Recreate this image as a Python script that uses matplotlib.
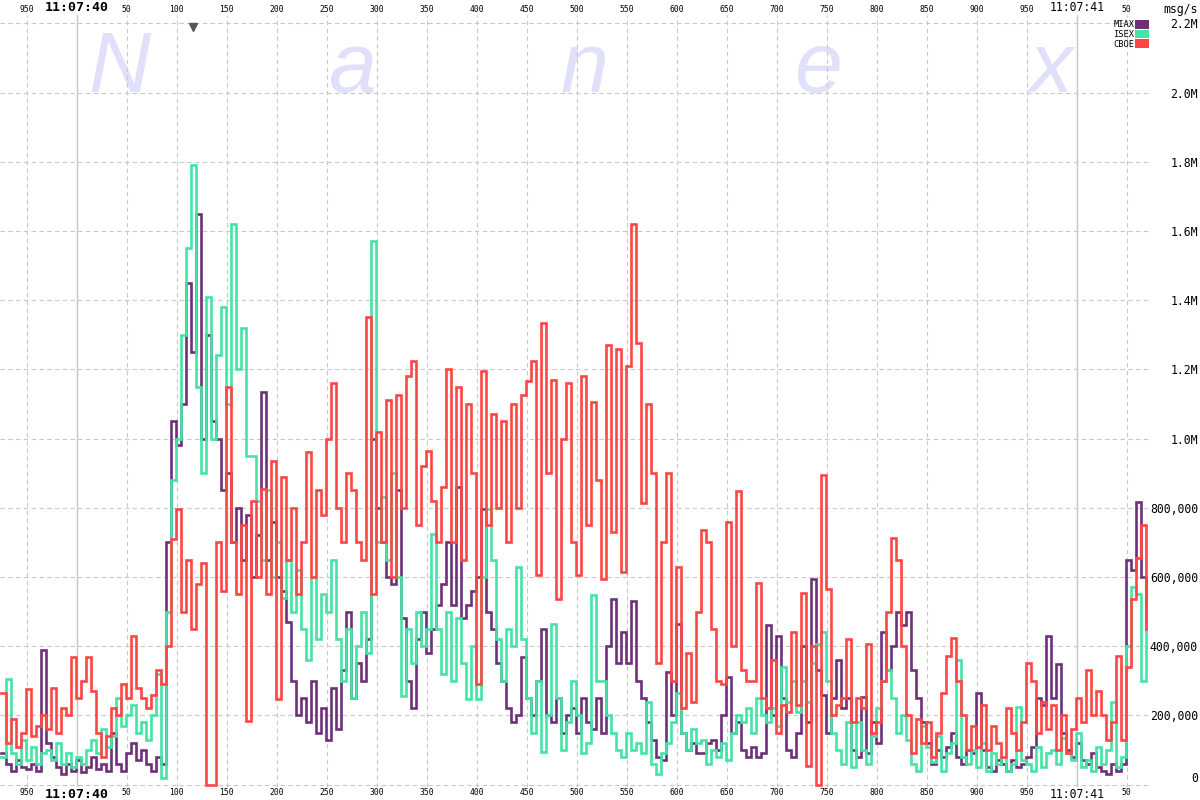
import numpy as np
import matplotlib
matplotlib.use("Agg")
import matplotlib.pyplot as plt
from matplotlib.patches import Patch

# ---------- data: msg/s in thousands, one sample every 5 ms ----------
# time is ms after 11:07:39.000 (so 1000 = 11:07:40.000)
T0_MS = 924
STEP_MS = 5

miax = [90, 60, 40, 70, 50, 45, 60, 40, 390, 120,
        80, 50, 30, 60, 40, 70, 35, 50, 80, 45,
        60, 40, 150, 60, 40, 90, 120, 70, 100, 60,
        40, 80, 60, 700, 1050, 980, 1100, 1450, 1250, 1650,
        1000, 1300, 1050, 1000, 850, 900, 700, 800, 650, 780,
        600, 720, 1135, 650, 760, 600, 560, 470, 300, 200,
        250, 180, 300, 150, 220, 130, 280, 160, 330, 500,
        250, 350, 300, 420, 1000, 800, 700, 600, 580, 850,
        480, 300, 220, 420, 500, 380, 450, 520, 580, 700,
        520, 860, 480, 520, 560, 600, 795, 500, 450, 350,
        300, 220, 180, 200, 370, 250, 200, 300, 450, 200,
        180, 250, 150, 200, 220, 150, 250, 180, 160, 250,
        150, 400, 535, 350, 440, 350, 530, 300, 250, 180,
        130, 80, 70, 325, 200, 465, 150, 100, 120, 90,
        90, 120, 130, 100, 200, 312, 150, 180, 100, 80,
        110, 80, 90, 460, 200, 430, 250, 100, 80, 150,
        400, 180, 595, 330, 260, 150, 250, 360, 220, 250,
        100, 80, 254, 90, 180, 120, 442, 330, 400, 500,
        460, 500, 330, 250, 180, 120, 60, 100, 80, 110,
        150, 80, 60, 100, 90, 265, 100, 50, 40, 70,
        60, 40, 70, 50, 60, 80, 110, 250, 230, 430,
        250, 348, 150, 100, 80, 120, 70, 60, 90, 50,
        40, 30, 60, 40, 60, 650, 620, 818, 600, 480]

isex = [80, 305, 90, 60, 130, 70, 110, 60, 90, 100,
        70, 120, 60, 90, 50, 80, 60, 100, 130, 90,
        160, 110, 140, 250, 170, 200, 230, 150, 180, 130,
        200, 320, 20, 500, 880, 1000, 1300, 1550, 1790, 1150,
        900, 1410, 1000, 1240, 1380, 1100, 1620, 1200, 1320, 950,
        950, 820, 650, 850, 600, 700, 540, 650, 500, 620,
        450, 360, 600, 420, 550, 500, 650, 420, 300, 450,
        250, 400, 500, 380, 1570, 700, 830, 650, 900, 600,
        255, 450, 350, 500, 400, 450, 725, 450, 320, 500,
        300, 480, 350, 248, 400, 248, 600, 795, 650, 420,
        300, 450, 400, 630, 420, 250, 150, 300, 95, 200,
        465, 250, 100, 180, 300, 200, 90, 120, 548, 300,
        300, 200, 150, 100, 80, 150, 100, 120, 90, 240,
        60, 30, 90, 120, 180, 265, 150, 100, 160, 120,
        130, 60, 100, 80, 120, 70, 150, 200, 180, 220,
        150, 250, 200, 180, 220, 170, 340, 240, 300, 210,
        300, 240, 350, 405, 440, 300, 150, 100, 60, 180,
        50, 180, 100, 60, 140, 220, 300, 330, 250, 150,
        200, 130, 60, 40, 170, 110, 65, 140, 40, 90,
        120, 360, 80, 60, 100, 50, 120, 40, 90, 60,
        80, 40, 60, 225, 70, 60, 40, 110, 50, 90,
        100, 60, 135, 90, 70, 150, 50, 70, 40, 110,
        60, 100, 240, 50, 80, 400, 570, 550, 300, 510]

cboe = [265, 120, 190, 110, 150, 275, 140, 170, 200, 160,
        280, 150, 220, 200, 370, 250, 300, 370, 270, 150,
        80, 140, 220, 200, 290, 250, 430, 280, 250, 220,
        260, 330, 290, 400, 710, 795, 500, 650, 450, 580,
        640, 0, 0, 700, 560, 1150, 700, 550, 750, 185,
        820, 600, 855, 550, 936, 248, 890, 650, 800, 550,
        700, 960, 600, 850, 780, 1000, 1160, 800, 700, 900,
        850, 700, 650, 1350, 550, 1020, 700, 1110, 600, 1125,
        800, 1180, 1225, 750, 920, 965, 820, 700, 860, 1200,
        700, 1150, 650, 1100, 900, 290, 1195, 750, 1070, 800,
        1050, 700, 1100, 800, 1125, 1165, 1225, 607, 1335, 900,
        1170, 536, 1000, 1160, 700, 607, 1180, 750, 1105, 880,
        595, 1270, 730, 1260, 613, 1210, 1620, 1275, 815, 1100,
        900, 350, 700, 900, 300, 630, 220, 380, 240, 500,
        735, 700, 450, 300, 290, 760, 400, 848, 330, 300,
        300, 583, 250, 220, 360, 150, 230, 210, 440, 230,
        555, 54, 400, 0, 895, 565, 200, 230, 250, 420,
        180, 250, 220, 405, 150, 180, 300, 500, 712, 650,
        400, 200, 90, 190, 120, 180, 80, 150, 265, 372,
        425, 300, 200, 100, 170, 110, 230, 100, 170, 120,
        80, 220, 150, 100, 180, 350, 300, 150, 240, 160,
        230, 100, 200, 90, 160, 250, 180, 330, 200, 270,
        200, 130, 180, 372, 130, 340, 536, 655, 750, 450]

series_names = ["MIAX", "ISEX", "CBOE"]
series_colors = ["#6e3179", "#44e3a6", "#ff4644"]

tick_ms = list(range(950, 2051, 50))
tick_labels = ["950", "11:07:40", "50", "100", "150", "200", "250", "300",
               "350", "400", "450", "500", "550", "600", "650", "700", "750",
               "800", "850", "900", "950", "11:07:41", "50"]
second_marks = [1000, 2000]

y_ticks = [0, 200000, 400000, 600000, 800000, 1000000, 1200000, 1400000,
           1600000, 1800000, 2000000, 2200000]
y_labels = ["0", "200,000", "400,000", "600,000", "800,000", "1.0M", "1.2M",
            "1.4M", "1.6M", "1.8M", "2.0M", "2.2M"]

watermark = ["N", "a", "n", "e", "x"]
marker_ms = 1116

# ---------- figure ----------
W, H = 1200, 800
fig = plt.figure(figsize=(12, 8), dpi=100)
fig.patch.set_facecolor("white")
ax = fig.add_axes([0, 13 / H, 1150 / W, 772 / H])
ax.set_xlim(923.3, 2073.3)
ax.set_ylim(-7000, 2.224e6)
for sp in ax.spines.values():
    sp.set_visible(False)

mono = "DejaVu Sans Mono"

# grid
ax.set_xticks(tick_ms)
ax.set_yticks(y_ticks)
ax.grid(True, color="#c8c8c8", linestyle=(0, (4, 3)), linewidth=0.8, zorder=0)
for s in second_marks:
    ax.axvline(s, color="#c8c8c8", linewidth=1.0, zorder=0.5)

# watermark
for i, ch in enumerate(watermark):
    ax.text((119 + 233 * i) / 1150, 0.9, ch, transform=ax.transAxes,
            fontsize=62, family="Liberation Sans", style="italic",
            color="#e0e0fa", ha="center", va="baseline", zorder=0.6)

# data (each sample holds for STEP_MS)
t = T0_MS + STEP_MS * np.arange(len(miax))
for vals, name, col in zip([miax, isex, cboe], series_names, series_colors):
    ax.plot(t, np.array(vals) * 1000, drawstyle="steps-post", color=col,
            linewidth=1.9, label=name, zorder=2, solid_joinstyle="miter")

# x tick labels on top and bottom
ax.tick_params(axis="x", which="both", top=True, bottom=True, labeltop=True,
               labelbottom=True, length=0)
ax.tick_params(axis="x", pad=1.0)
ax.set_xticklabels(tick_labels)
for tk, lab in zip(ax.xaxis.get_major_ticks(), tick_labels):
    for txt in (tk.label1, tk.label2):
        txt.set_family(mono)
        if lab == "11:07:40":
            txt.set_fontsize(9.5)
            txt.set_fontweight("bold")
        elif lab == "11:07:41":
            txt.set_fontsize(8.3)
        else:
            txt.set_fontsize(5.8)
    tk.label1.set_va("top")
    tk.label2.set_va("bottom")

# right y labels
ax.yaxis.tick_right()
ax.tick_params(axis="y", length=0, pad=34.5)
ax.set_yticklabels(y_labels)
for lab in ax.get_yticklabels():
    lab.set_family(mono)
    lab.set_fontsize(8.3)
    lab.set_ha("right")
ax.get_yticklabels()[0].set_va("bottom")

fig.text(1198 / W, 1 - 3 / H, "msg/s", family=mono, fontsize=8.3,
         ha="right", va="top")

# small marker at top
ax.plot([marker_ms], [0.985], marker="v", color="#555555", markersize=5.5,
        transform=ax.get_xaxis_transform(), clip_on=False, zorder=3)

# legend
handles = [Patch(facecolor=c, edgecolor="none") for c in series_colors]
leg = fig.legend(handles, series_names, loc="upper right",
                 bbox_to_anchor=(1149 / W, 1 - 20 / H),
                 bbox_transform=fig.transFigure, frameon=False,
                 markerfirst=False, prop={"family": mono, "size": 6.3},
                 handlelength=1.6, handleheight=1.15, handletextpad=0.1,
                 labelspacing=0.05, borderpad=0, borderaxespad=0)

fig.savefig("out.png", dpi=100, facecolor="white")
